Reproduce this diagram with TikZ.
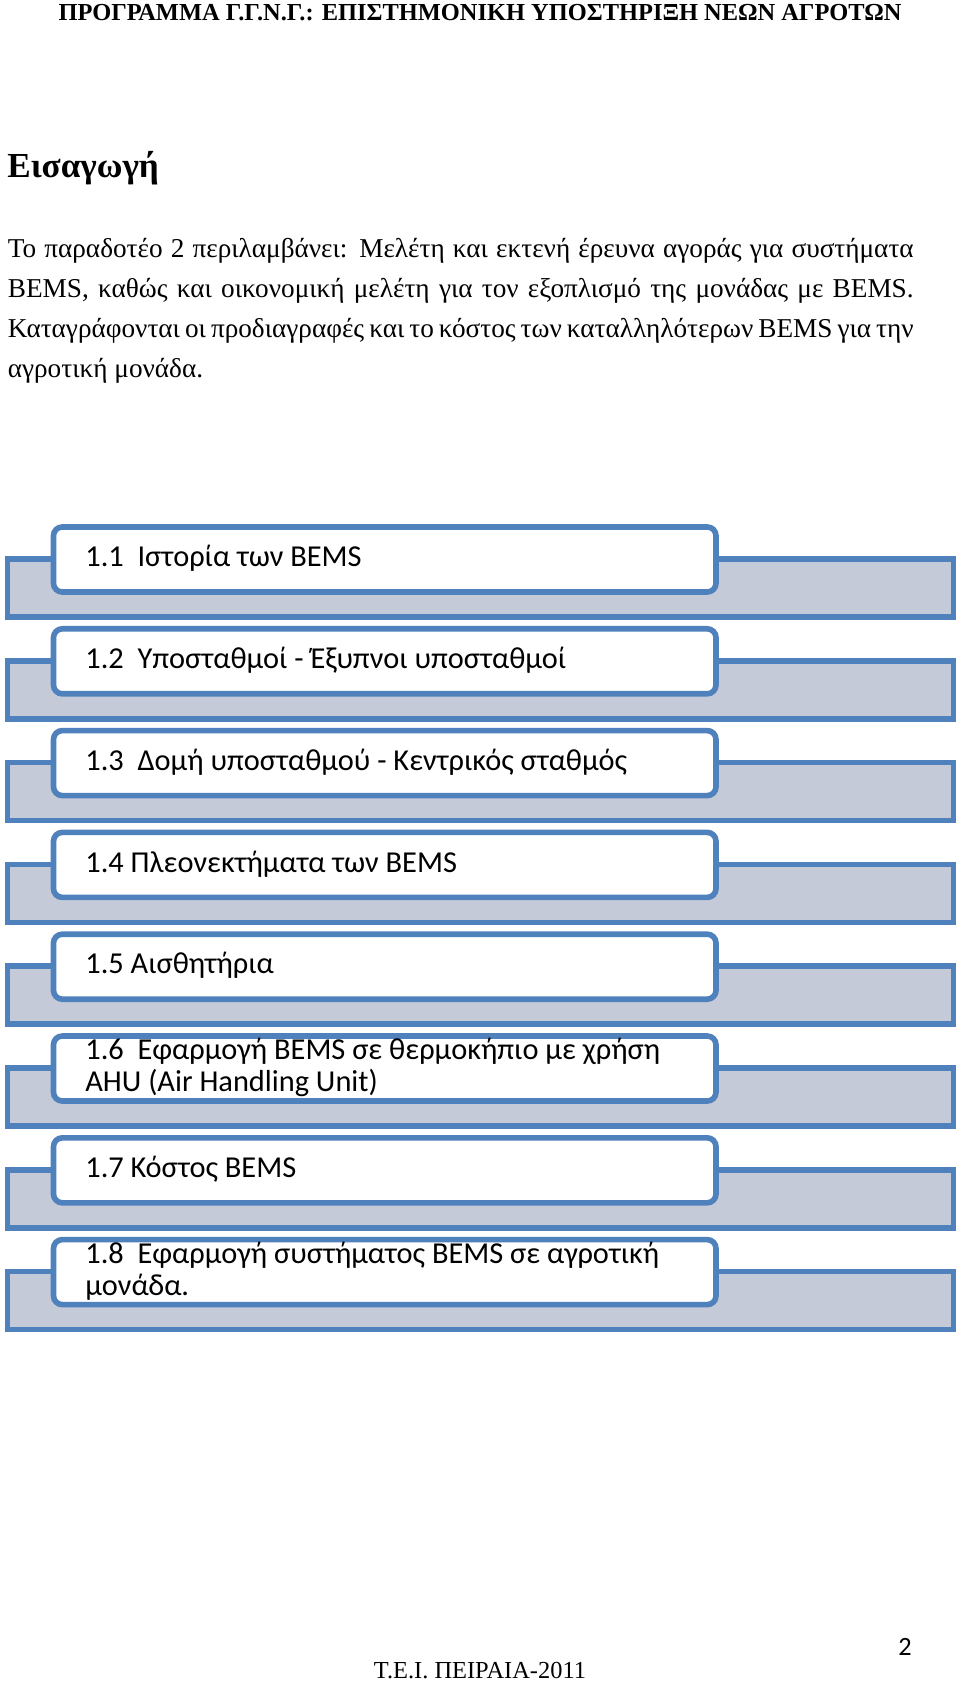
\documentclass[tikz,border=0pt]{standalone}
\usepackage{fontspec}
\setmainfont{Liberation Serif}
\newfontfamily\boxfont{Carlito}
\usetikzlibrary{positioning}
\definecolor{barfill}{HTML}{C5CAD8}
\definecolor{edgeblue}{HTML}{4F81BD}
\tikzset{
  barstyle/.style={draw=edgeblue, line width=3.2pt, fill=barfill},
  itembox/.style={draw=edgeblue, line width=3.2pt, fill=white, rounded corners=5pt},
  itemtext/.style={font=\boxfont\fontsize{17.3}{18.4}\selectfont, anchor=west, align=left, inner sep=0pt}
}
\begin{document}
\begin{tikzpicture}[x=0.02cm, y=-0.02cm]
  \useasboundingbox (0,0) rectangle (960,1682);
  % page header
  \node[font=\bfseries\fontsize{13.9}{16}\selectfont, inner sep=0pt] (head) at (480,13) {ΠΡΟΓΡΑΜΜΑ Γ.Γ.Ν.Γ.: ΕΠΙΣΤΗΜΟΝΙΚΗ ΥΠΟΣΤΗΡΙΞΗ ΝΕΩΝ ΑΓΡΟΤΩΝ};
  % title and paragraph
  \node[font=\bfseries\fontsize{20}{24}\selectfont, anchor=west, inner sep=0pt] (title) at (7,168) {Εισαγωγή};
  \node[font=\fontsize{15.5}{22.7}\selectfont, anchor=north west, inner sep=0pt,
        text width=18.12cm, align=justify] (intro) at (7.5,238)
    {Το παραδοτέο 2 περιλαμβάνει: Μελέτη και εκτενή έρευνα αγοράς για συστήματα\linebreak
     BEMS, καθώς και οικονομική μελέτη για τον εξοπλισμό της μονάδας με BEMS.\linebreak
     Καταγράφονται οι προδιαγραφές και το κόστος των καταλληλότερων BEMS για την\linebreak
     αγροτική μονάδα.};
  % item list
  \foreach \i/\txt in {0/{1.1\ \ Ιστορία των BEMS},
                       1/{1.2\ \ Υποσταθμοί - Έξυπνοι υποσταθμοί},
                       2/{1.3\ \ Δομή υποσταθμού - Κεντρικός σταθμός},
                       3/{1.4 Πλεονεκτήματα των BEMS},
                       4/{1.5 Αισθητήρια},
                       5/{1.6\ \ Εφαρμογή BEMS σε θερμοκήπιο με χρήση\\AHU (Air Handling Unit)},
                       6/{1.7 Κόστος BEMS},
                       7/{1.8\ \ Εφαρμογή συστήματος BEMS σε αγροτική\\μονάδα.}} {
    \pgfmathsetmacro{\top}{527+101.8*\i}
    \draw[barstyle] (7.5,\top+32) rectangle (953.5,\top+90);
    \draw[itembox] (53.5,\top) rectangle (716,\top+65);
    \node[itemtext] (item\i) at (85,\top+31.5) {\txt};
  }
  % footer
  \node[font=\boxfont\fontsize{15}{18}\selectfont, inner sep=0pt] (pagenum) at (905,1647) {2};
  \node[font=\fontsize{13.9}{16}\selectfont, inner sep=0pt] (foot) at (480,1671) {Τ.Ε.Ι. ΠΕΙΡΑΙΑ-2011};
\end{tikzpicture}
\end{document}
